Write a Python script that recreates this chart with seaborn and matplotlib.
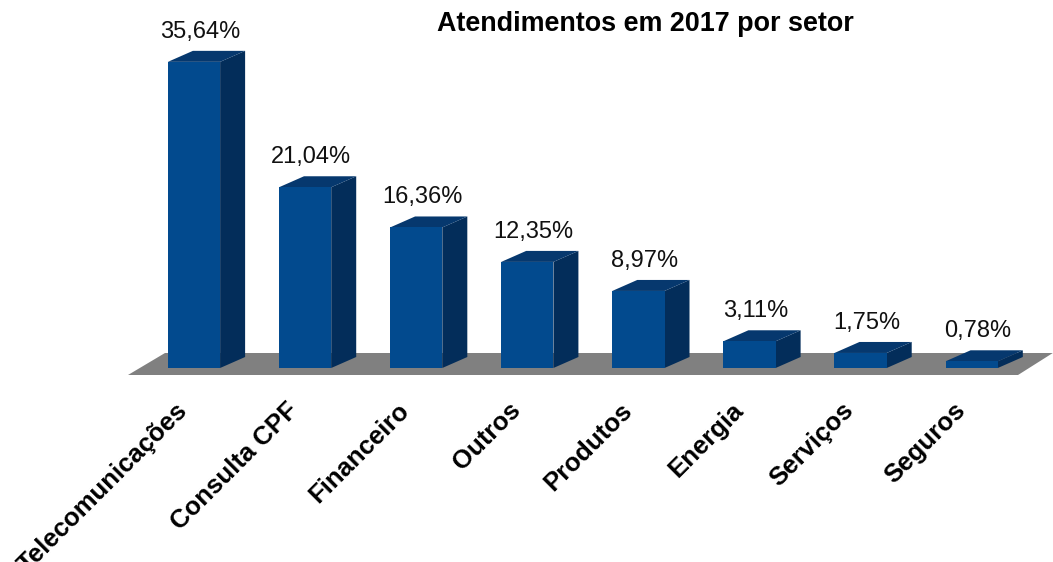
import matplotlib
matplotlib.use("Agg")
import matplotlib.pyplot as plt
import seaborn as sns
import pandas as pd
from matplotlib.patches import Polygon

categories = ["Telecomunicações", "Consulta CPF", "Financeiro", "Outros",
              "Produtos", "Energia", "Serviços", "Seguros"]
values = [35.64, 21.04, 16.36, 12.35, 8.97, 3.11, 1.75, 0.78]
value_labels = ["35,64%", "21,04%", "16,36%", "12,35%", "8,97%", "3,11%", "1,75%", "0,78%"]
title = "Atendimentos em 2017 por setor"

sns.set_theme(style="white")
plt.rcParams["font.family"] = ["Liberation Sans", "DejaVu Sans"]

W, H = 1053, 562
fig = plt.figure(figsize=(W / 100, H / 100), dpi=100)
ax = fig.add_axes([0, 0, 1, 1])

# pixel-based mapping of the axes
px_per_cat = 111.1
px_per_unit = 8.59
x0_px = 194.0          # centre of first bar front, from left
y0_px = 368.0          # baseline from top

front = "#024a8e"
side = "#032d5a"
top = "#06386e"
floor_c = "#808080"

dx = 25 / px_per_cat
dy = 11 / px_per_unit

n = len(categories)
# floor
f_front = -7 / px_per_unit
f_back = 15 / px_per_unit
floor = Polygon([(-0.594, f_front), (n - 1 + 0.417, f_front),
                 (n - 1 + 0.73, f_back), (-0.261, f_back)],
                closed=True, facecolor=floor_c, edgecolor="none", zorder=0.5)
ax.add_patch(floor)

df = pd.DataFrame({"cat": categories, "val": values})
sns.barplot(data=df, x="cat", y="val", order=categories, color=front,
            width=0.47, saturation=1, ax=ax, zorder=2, edgecolor="none")
ax.set_xlim(-x0_px / px_per_cat, (W - x0_px) / px_per_cat)
ax.set_ylim(-(H - y0_px) / px_per_unit, y0_px / px_per_unit)
ax.axis("off")

for i, p in enumerate(ax.patches):
    if isinstance(p, Polygon):
        continue
    x = p.get_x(); w = p.get_width(); h = p.get_height()
    s = Polygon([(x + w, 0), (x + w + dx, dy), (x + w + dx, h + dy), (x + w, h)],
                closed=True, facecolor=side, edgecolor="none", zorder=1.9)
    t = Polygon([(x, h), (x + dx, h + dy), (x + w + dx, h + dy), (x + w, h)],
                closed=True, facecolor=top, edgecolor="none", zorder=1.9)
    ax.add_patch(s); ax.add_patch(t)

for i, (v, lab) in enumerate(zip(values, value_labels)):
    ax.annotate(lab, (i + dx / 4, v + dy), xytext=(0, 6), textcoords="offset points",
                ha="center", va="bottom", fontsize=17, color="#111111")

for i, c in enumerate(categories):
    ax.text(i - 0.17, -30 / px_per_unit, c, rotation=45, rotation_mode="anchor",
            ha="right", va="top", fontsize=18.5, fontweight="bold", color="black")

fig.text(645 / W, 1 - 24 / H, title, ha="center", va="center",
         fontsize=19.4, fontweight="bold", color="black")

fig.savefig("out.png", dpi=100)
